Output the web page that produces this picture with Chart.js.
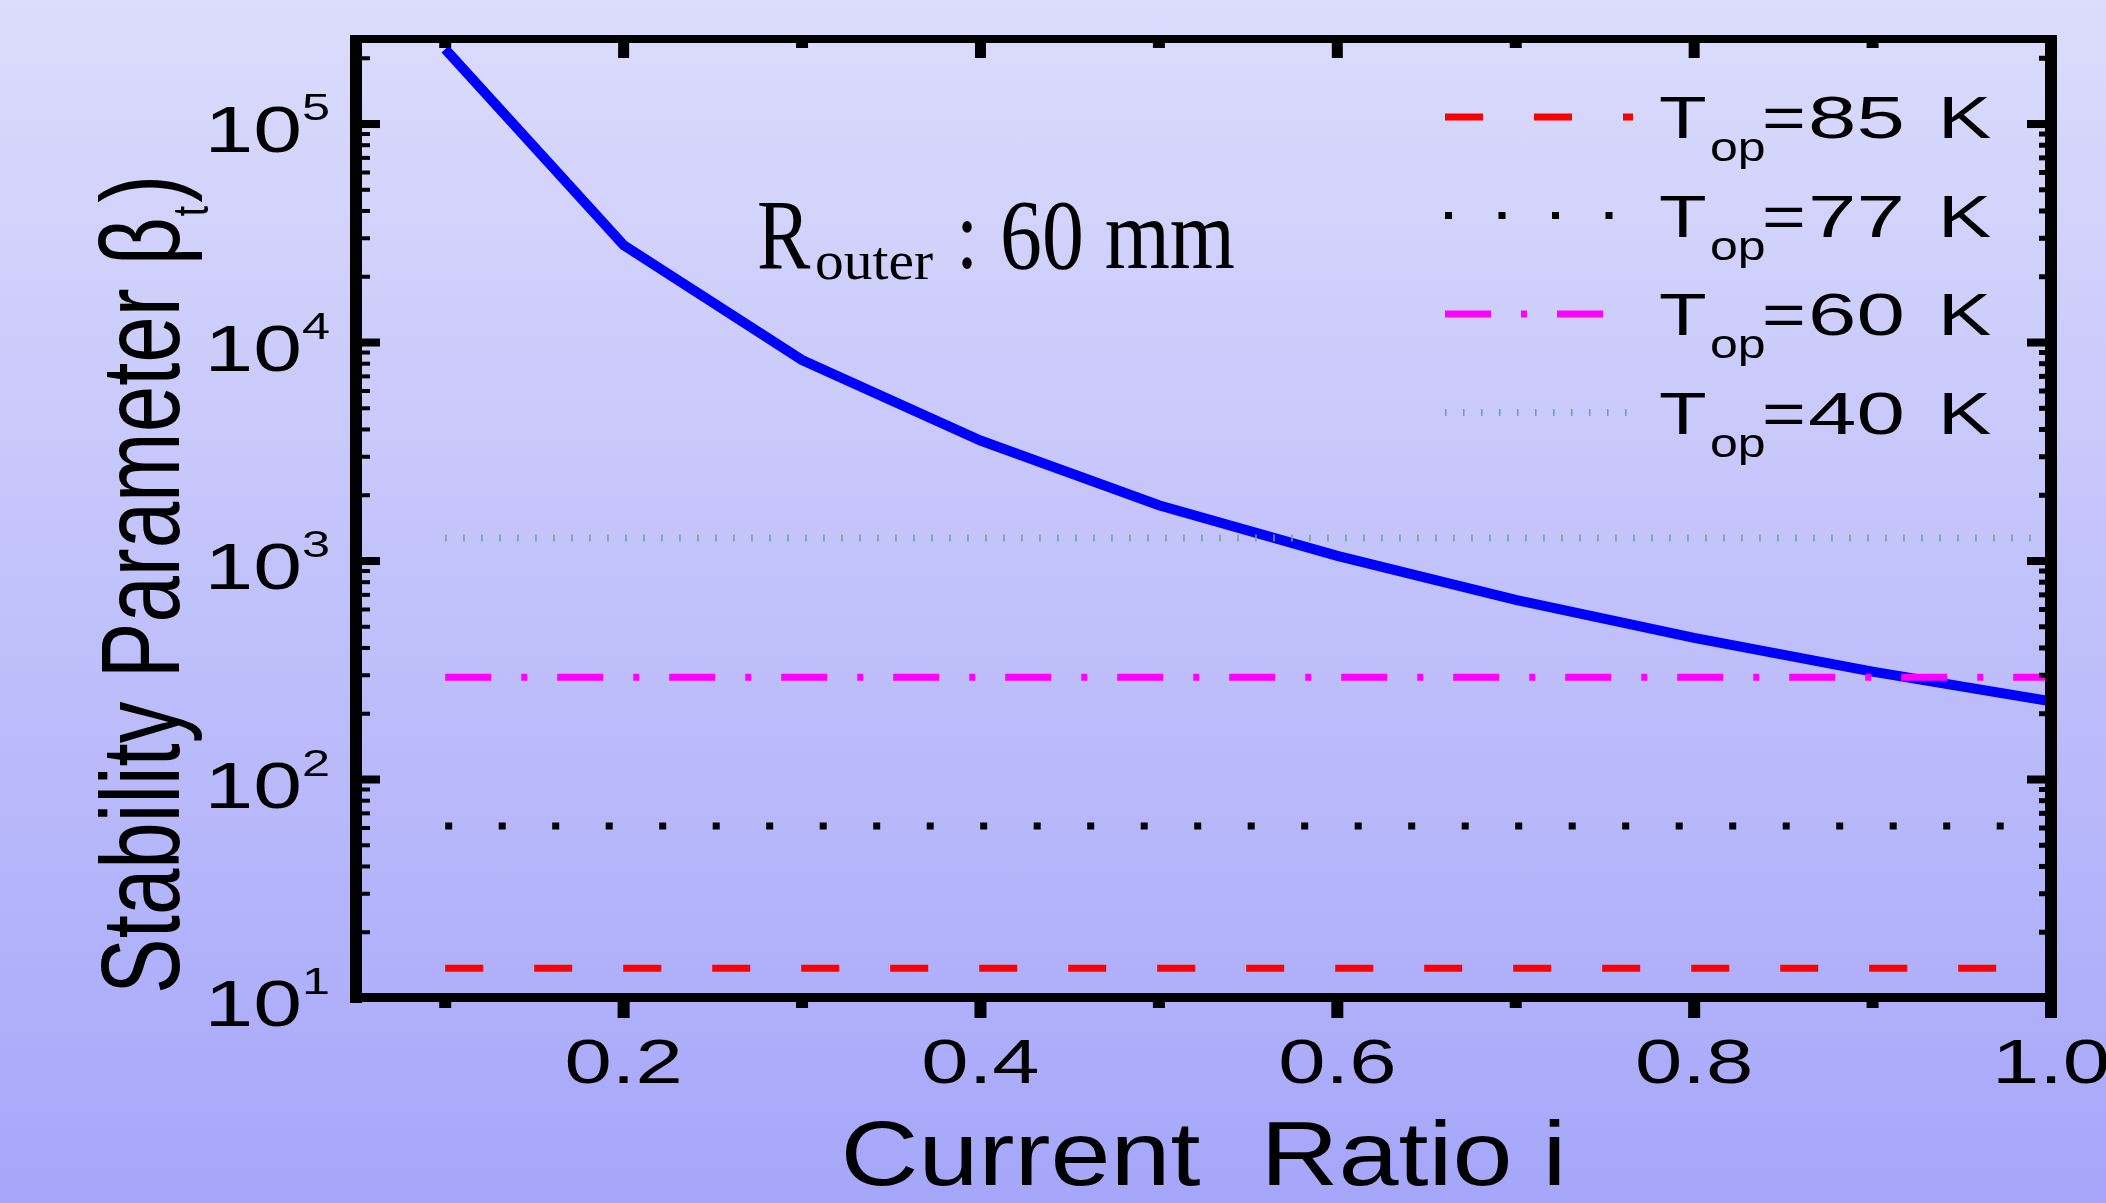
<!DOCTYPE html>
<html>
<head>
<meta charset="utf-8">
<title>Stability Parameter vs Current Ratio</title>
<script src="https://cdn.jsdelivr.net/npm/chart.js@4.4.1/dist/chart.umd.min.js"></script>
<style>
  html, body { margin: 0; padding: 0; overflow: hidden; }
  body { width: 2106px; height: 1203px; background: linear-gradient(to bottom, #dcdcfc 0%, #a6a6fa 100%); }
  #box { position: relative; width: 2106px; height: 1203px; }
</style>
</head>
<body>
<div id="box"><canvas id="grafico"></canvas></div>
<script>
// dados
const currentRatio = [0.1, 0.2, 0.3, 0.4, 0.5, 0.6, 0.7, 0.8, 0.9, 1.0];
const betaT = [2.2e5, 2.79e4, 8320, 3560, 1800, 1055, 664, 445, 312, 228];
const tempK = [85, 77, 60, 40];
const tempBeta = [13.7, 61.2, 294, 1274];
const levelSpan = [0.1, 1.0];
const xMajor = [0.2, 0.4, 0.6, 0.8, 1.0];
const xMinor = [0.1, 0.3, 0.5, 0.7, 0.9];
const yMajor = [10, 100, 1000, 10000, 100000];
const yExpo = ['1', '2', '3', '4', '5'];

// estilos das linhas de temperatura
const lineColors = ['#ff0000', '#000000', '#ff00ff', '#6fa38c'];
const lineDashes = [[38, 51], [7, 46.5], [46, 30, 6, 30], [1.5, 16.5]];
const lineWidths = [7, 7, 7, 7];

const SANS = "'Liberation Sans', Arial, sans-serif";
const SERIF = "'Liberation Serif', 'Times New Roman', serif";

function texto(ctx, str, x, y, font, sx, align) {
  ctx.save();
  ctx.font = font;
  ctx.translate(x, y);
  ctx.scale(sx, 1);
  ctx.textAlign = align || 'left';
  ctx.textBaseline = 'alphabetic';
  ctx.fillText(str, 0, 0);
  ctx.restore();
}

function textoAjustado(ctx, str, x, y, font, largura, align) {
  ctx.save();
  ctx.font = font;
  const w = ctx.measureText(str).width;
  ctx.restore();
  texto(ctx, str, x, y, font, largura / w, align);
}

const molduraPlugin = {
  id: 'moldura',
  afterDraw(chart) {
    const ctx = chart.ctx;
    const xs = chart.scales.x, ys = chart.scales.y;
    const a = chart.chartArea;
    ctx.save();
    ctx.fillStyle = '#000';

    // moldura
    ctx.fillRect(a.left - 6, a.top - 4, a.right - a.left + 12, 8);
    ctx.fillRect(a.left - 6, a.bottom - 5, a.right - a.left + 12, 9);
    ctx.fillRect(a.left - 6, a.top - 4, 12, a.bottom - a.top + 9);
    ctx.fillRect(a.right - 6, a.top - 4, 12, a.bottom - a.top + 9);

    // ticks do eixo x
    xMajor.forEach(v => {
      const px = xs.getPixelForValue(v);
      ctx.fillRect(px - 6, a.bottom + 4, 12, 16);
      ctx.fillRect(px - 5.5, a.top + 4, 11, 15);
    });
    xMinor.forEach(v => {
      const px = xs.getPixelForValue(v);
      ctx.fillRect(px - 6, a.bottom + 4, 12, 6);
      ctx.fillRect(px - 6, a.top + 4, 12, 5);
    });

    // ticks do eixo y (log)
    yMajor.forEach(v => {
      const py = ys.getPixelForValue(v);
      ctx.fillRect(a.left + 6, py - 4, 18, 8);
      ctx.fillRect(a.right - 24, py - 4, 18, 8);
    });
    for (let e = 1; e <= 5; e++) {
      for (let k = 2; k <= 9; k++) {
        const v = k * Math.pow(10, e);
        if (v > ys.max) continue;
        const py = ys.getPixelForValue(v);
        ctx.fillRect(a.left + 6, py - 2, 8, 4);
        ctx.fillRect(a.right - 12, py - 2.5, 6, 5);
      }
    }

    // rotulos y
    yMajor.forEach((v, i) => {
      const py = ys.getPixelForValue(v);
      texto(ctx, '10', 302, py + 28, '65px ' + SANS, 1.35, 'right');
      texto(ctx, yExpo[i], 302, py - 4, '36px ' + SANS, 1.4, 'left');
    });

    // rotulos x
    xMajor.forEach(v => {
      const px = xs.getPixelForValue(v);
      texto(ctx, v.toFixed(1), px, 1083, '63px ' + SANS, 1.35, 'center');
    });

    // titulo x
    textoAjustado(ctx, 'Current  Ratio i', (a.left + a.right) / 2, 1185, '90px ' + SANS, 726, 'center');

    // titulo y
    ctx.save();
    ctx.translate(179, 994);
    ctx.rotate(-Math.PI / 2);
    ctx.font = '85px ' + SANS;
    const principal = 'Stability Parameter \u03B2';
    const wMain = ctx.measureText(principal).width;
    const wPar = ctx.measureText(')').width;
    ctx.font = '38px ' + SANS;
    const wSub = ctx.measureText('t').width;
    const fx = 819 / (wMain + wSub + 4 + wPar);
    ctx.scale(fx, 1.3);
    ctx.font = '85px ' + SANS;
    ctx.fillText(principal, 0, 0);
    ctx.fillText(')', wMain + wSub + 4, 0);
    ctx.font = '38px ' + SANS;
    ctx.fillText('t', wMain + 1, 22);
    ctx.restore();

    // legenda
    tempK.forEach((t, i) => {
      const yl = 117 + i * 98.5;
      const bl = 138 + i * 98.5;
      ctx.save();
      ctx.strokeStyle = lineColors[i];
      ctx.lineWidth = lineWidths[i];
      ctx.lineCap = 'butt';
      ctx.setLineDash(lineDashes[i]);
      ctx.beginPath();
      ctx.moveTo(1445, yl);
      ctx.lineTo(1633, yl);
      ctx.stroke();
      ctx.restore();
      texto(ctx, 'T', 1659, bl, '60px ' + SANS, 1.3);
      texto(ctx, 'op', 1710, bl + 23, '40px ' + SANS, 1.25);
      texto(ctx, '=', 1762, bl, '60px ' + SANS, 1.25);
      texto(ctx, String(t), 1808, bl, '60px ' + SANS, 1.45);
      texto(ctx, 'K', 1938, bl, '60px ' + SANS, 1.33);
    });

    // anotacao
    texto(ctx, 'R', 757, 268, '100px ' + SERIF, 0.8);
    textoAjustado(ctx, 'outer', 815, 279, '54px ' + SERIF, 118);
    texto(ctx, ':', 956, 268, '100px ' + SERIF, 0.8);
    textoAjustado(ctx, '60 mm', 1000, 268, '100px ' + SERIF, 235);

    ctx.restore();
  }
};

const datasets = tempBeta.map((v, i) => ({
  label: 'T_op=' + tempK[i] + ' K',
  data: levelSpan.map(x => ({ x: x, y: v })),
  borderColor: lineColors[i],
  borderWidth: lineWidths[i],
  borderDash: lineDashes[i],
  borderCapStyle: 'butt',
  pointRadius: 0,
  fill: false,
  order: i + 1
}));

datasets.push({
  label: 'beta_t',
  data: currentRatio.map((x, i) => ({ x: x, y: betaT[i] })),
  borderColor: '#0000ff',
  borderWidth: 10,
  borderCapStyle: 'butt',
  borderJoinStyle: 'miter',
  pointRadius: 0,
  tension: 0,
  fill: false,
  order: 10
});

new Chart(document.getElementById('grafico'), {
  type: 'line',
  data: { datasets: datasets },
  options: {
    responsive: true,
    maintainAspectRatio: false,
    animation: false,
    layout: { padding: { left: 356, top: 39, right: 55, bottom: 205 } },
    plugins: {
      legend: { display: false },
      tooltip: { enabled: false }
    },
    scales: {
      x: { type: 'linear', min: 0.05, max: 1.0, display: false },
      y: { type: 'logarithmic', min: 10, max: 2.45e5, display: false }
    }
  },
  plugins: [molduraPlugin]
});
</script>
</body>
</html>
